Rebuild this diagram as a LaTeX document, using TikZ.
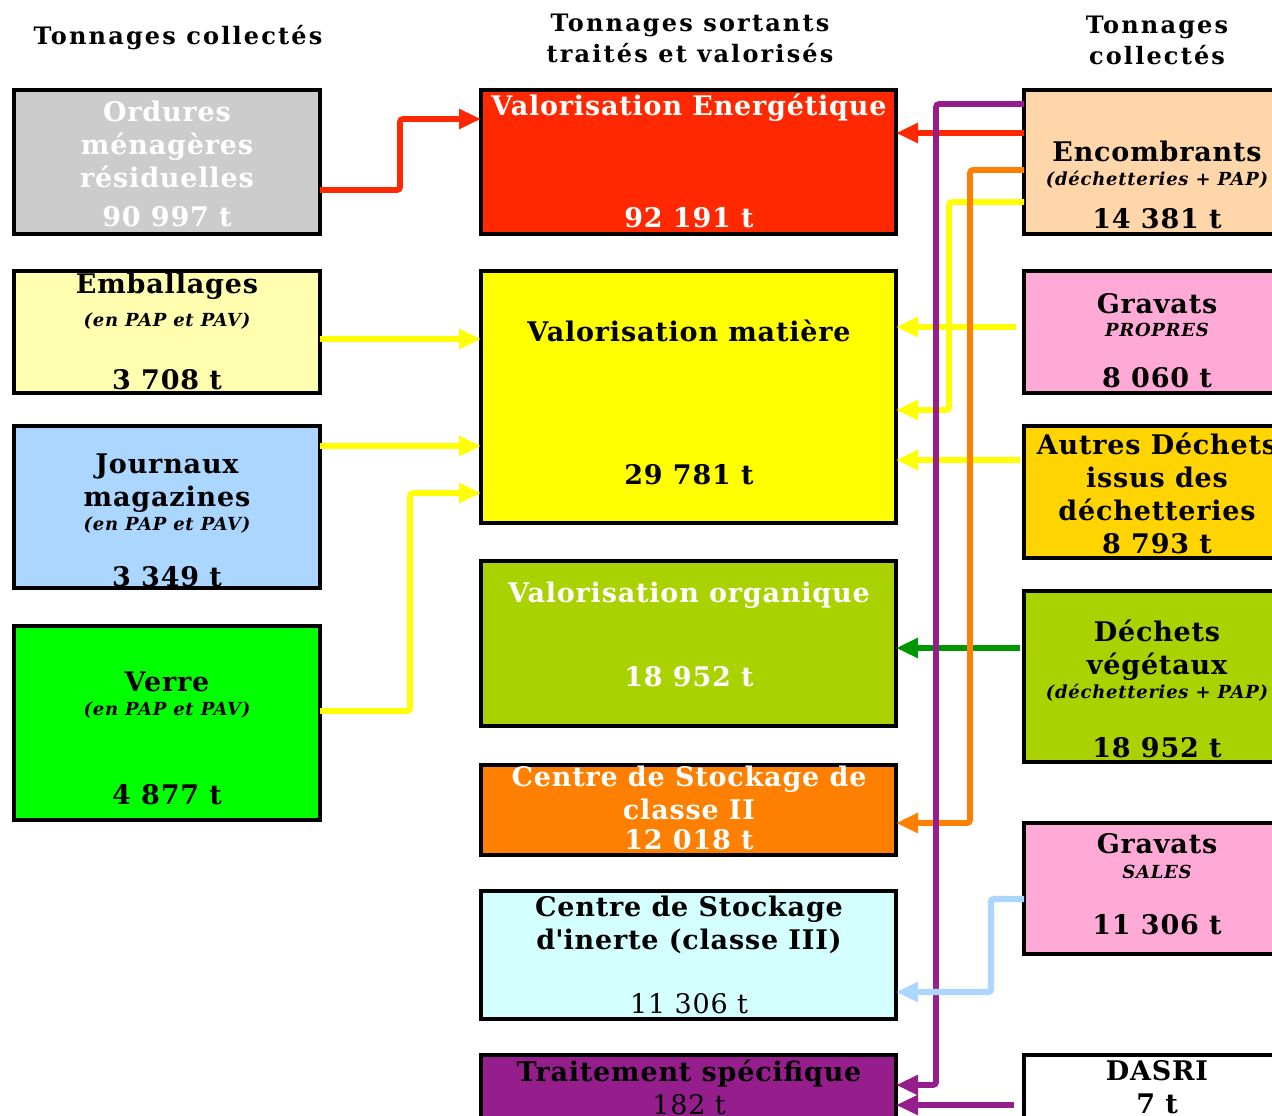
\documentclass[tikz,border=0pt]{standalone}
\usepackage{fontspec}
\setmainfont{DejaVu Serif}
\usetikzlibrary{arrows.meta}

\definecolor{gris}{RGB}{204,204,204}
\definecolor{rougeVE}{RGB}{255,40,0}
\definecolor{jaunePale}{RGB}{255,255,175}
\definecolor{bleuPale}{RGB}{170,214,255}
\definecolor{vertVif}{RGB}{0,255,0}
\definecolor{jauneVM}{RGB}{255,255,0}
\definecolor{vertOrg}{RGB}{170,210,0}
\definecolor{orangeCS}{RGB}{255,128,0}
\definecolor{cyanPale}{RGB}{212,255,255}
\definecolor{violet}{RGB}{150,30,140}
\definecolor{peche}{RGB}{255,214,170}
\definecolor{rose}{RGB}{255,170,214}
\definecolor{orDechets}{RGB}{255,212,0}
\definecolor{vertFleche}{RGB}{0,150,0}

\newcommand{\petit}[1]{{\fontsize{9}{10}\selectfont\itshape\addfontfeatures{LetterSpace=4}#1}}

\tikzset{
  bloc/.style={draw=black, line width=2pt, inner sep=0pt, outer sep=0pt, anchor=north west},
  texte/.style={font=\fontsize{13.5}{16.5}\selectfont\bfseries\addfontfeatures{LetterSpace=3}, align=center, inner sep=0pt},
  entete/.style={font=\fontsize{12}{15.5}\selectfont\bfseries\addfontfeatures{LetterSpace=9}, align=center, inner sep=0pt},
  fleche/.style={line width=2.9pt, rounded corners=1.5pt, -{Triangle[length=11pt,width=9.5pt]}},
}

\begin{document}
\begin{tikzpicture}[x=0.5pt, y=-0.5pt]
  \useasboundingbox (0,0) rectangle (1272,1115);
  \clip (0,0) rectangle (1272,1115);

  % en-tetes
  \node[entete] (h-gauche) at (178,38)  {Tonnages collectés};
  \node[entete] (h-milieu) at (690,38)  {Tonnages sortants\\traités et valorisés};
  \node[entete] (h-droite) at (1157,40) {Tonnages\\collectés};

  % colonne de gauche
  \node[bloc, fill=gris,      minimum width=153pt, minimum height=72pt] (ord)   at (14,90)  {};
  \node[bloc, fill=jaunePale, minimum width=153pt, minimum height=61pt] (emb)   at (14,271) {};
  \node[bloc, fill=bleuPale,  minimum width=153pt, minimum height=81pt] (jour)  at (14,426) {};
  \node[bloc, fill=vertVif,   minimum width=153pt, minimum height=97pt] (verre) at (14,626) {};

  % colonne du milieu
  \node[bloc, fill=rougeVE,  minimum width=207.5pt, minimum height=72pt]   (ve)  at (481,90)   {};
  \node[bloc, fill=jauneVM,  minimum width=207.5pt, minimum height=126pt]  (vm)  at (481,271)  {};
  \node[bloc, fill=vertOrg,  minimum width=207.5pt, minimum height=82.5pt] (vo)  at (481,561)  {};
  \node[bloc, fill=orangeCS, minimum width=207.5pt, minimum height=45pt]   (cs2) at (481,765)  {};
  \node[bloc, fill=cyanPale, minimum width=207.5pt, minimum height=64pt]   (csi) at (481,891)  {};
  \node[bloc, fill=violet,   minimum width=207.5pt, minimum height=50pt]   (ts)  at (481,1055) {};

  % colonne de droite
  \node[bloc, fill=peche,      minimum width=134pt, minimum height=72pt]   (enc)   at (1024,90)   {};
  \node[bloc, fill=rose,       minimum width=134pt, minimum height=61pt]   (gp)    at (1024,271)  {};
  \node[bloc, fill=orDechets,  minimum width=134pt, minimum height=66pt]   (aut)   at (1024,426)  {};
  \node[bloc, fill=vertOrg,    minimum width=134pt, minimum height=85.5pt] (dv)    at (1024,591)  {};
  \node[bloc, fill=rose,       minimum width=134pt, minimum height=65.5pt] (gs)    at (1024,823)  {};
  \node[bloc, fill=white,      minimum width=134pt, minimum height=50pt]   (dasri) at (1024,1055) {};

  % textes
  \node[texte, text=white] (t-ord)   at (167,164) {Ordures\\ménagères\\résiduelles\\[3pt]90 997 t};
  \node[texte]             (t-emb)   at (167,331) {Emballages\\\petit{(en PAP et PAV)}\\[15pt]3 708 t};
  \node[texte]             (t-jour)  at (167,520) {Journaux\\magazines\\[-4.5pt]\petit{(en PAP et PAV)}\\[11.5pt]3 349 t};
  \node[texte]             (t-verre) at (167,738) {Verre\\[-4.5pt]\petit{(en PAP et PAV)}\\[28pt]4 877 t};

  \node[texte, text=white] (t-ve)  at (689,161)  {Valorisation Energétique\\[39.5pt]92 191 t};
  \node[texte]             (t-vm)  at (689,402)  {Valorisation matière\\[55pt]29 781 t};
  \node[texte, text=white] (t-vo)  at (689,634)  {Valorisation organique\\[25.5pt]18 952 t};
  \node[texte, text=white] (t-cs2) at (689,808)  {Centre de Stockage de\\classe II\\[-1.5pt]12 018 t};
  \node[texte]             (t-csi) at (689,955)  {Centre de Stockage\\d\textquotesingle inerte (classe III)\\[15.5pt]{\mdseries 11 306 t}};
  \node[texte]             (t-ts)  at (689,1087) {Traitement spécifique\\{\mdseries 182 t}};

  \node[texte] (t-enc)   at (1157,185)  {Encombrants\\[-4.5pt]\petit{(déchetteries + PAP)}\\[5pt]14 381 t};
  \node[texte] (t-gp)    at (1157,341)  {Gravats\\[-5pt]\petit{PROPRES}\\[9pt]8 060 t};
  \node[texte] (t-aut)   at (1157,493)  {Autres Déchets\\issus des\\déchetteries\\8 793 t};
  \node[texte] (t-dv)    at (1157,689)  {Déchets\\végétaux\\[-4.5pt]\petit{(déchetteries + PAP)}\\[13pt]18 952 t};
  \node[texte] (t-gs)    at (1157,884)  {Gravats\\[-4pt]\petit{SALES}\\[11.5pt]11 306 t};
  \node[texte] (t-dasri) at (1157,1087) {DASRI\\7 t};

  % fleches vers la gauche du milieu
  \draw[fleche, rougeVE] (ord.east |- 0,190) -| (400,119) -- (ve.west |- 0,119);
  \draw[fleche, jauneVM] (emb.east |- 0,339) -- (vm.west |- 0,339);
  \draw[fleche, jauneVM] (jour.east |- 0,446) -- (vm.west |- 0,446);
  \draw[fleche, jauneVM] (verre.east |- 0,711) -| (410,493) -- (vm.west |- 0,493);

  % fleches depuis la droite
  \draw[fleche, rougeVE] (enc.west |- 0,133) -- (ve.east |- 0,133);
  \draw[fleche, jauneVM, shorten <=4pt] (gp.west |- 0,327) -- (vm.east |- 0,327);
  \draw[fleche, jauneVM, shorten <=2pt] (aut.west |- 0,460) -- (vm.east |- 0,460);
  \draw[fleche, vertFleche, shorten <=2pt] (dv.west |- 0,648) -- (vo.east |- 0,648);
  \draw[fleche, jauneVM] (enc.west |- 0,202) -| (949,410) -- (vm.east |- 0,410);
  \draw[fleche, orangeCS] (enc.west |- 0,170) -| (970,823) -- (cs2.east |- 0,823);
  \draw[fleche, violet] (enc.west |- 0,104) -| (936,1085) -- (ts.east |- 0,1085);
  \draw[fleche, bleuPale, line width=3.2pt] (gs.west |- 0,899) -| (991,992) -- (csi.east |- 0,992);
  \draw[fleche, violet, shorten <=5pt] (dasri.west |- 0,1105) -- (ts.east |- 0,1105);
\end{tikzpicture}
\end{document}
